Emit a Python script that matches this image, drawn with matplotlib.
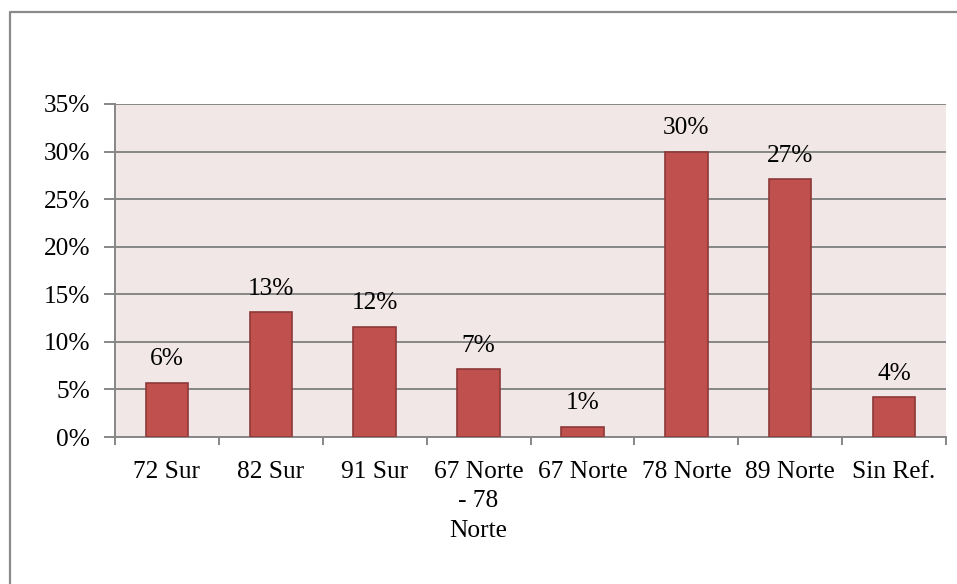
import numpy as np
import matplotlib.pyplot as plt
from matplotlib.lines import Line2D

categories = ["72 Sur", "82 Sur", "91 Sur", "67 Norte\n- 78\nNorte", "67 Norte",
              "78 Norte", "89 Norte", "Sin Ref."]
values = [5.7, 13.1, 11.6, 7.1, 1.1, 30.0, 27.1, 4.2]
yticks = [0, 5, 10, 15, 20, 25, 30, 35]

plt.rcParams['font.family'] = ['Liberation Serif', 'DejaVu Serif']
fs = 18.3

fig = plt.figure(figsize=(9.57, 5.84), dpi=100)
# chart frame: only top and left edges are visible in the crop
fx, fy = 9.5 / 957, 1 - 11.5 / 584
fig.lines.append(Line2D([fx, fx, 1], [0, fy, fy], transform=fig.transFigure,
                        color='#8a8a8a', linewidth=1.6))

ax = fig.add_axes([115 / 957, 147 / 584, 831 / 957, 333 / 584])
ax.set_facecolor('#F2E7E7')

x = np.arange(len(categories))
ax.bar(x, values, width=0.41, color='#C0504D', edgecolor='#8C3A38',
       linewidth=1.2, zorder=3)

for xi, v in zip(x, values):
    ax.annotate(f"{round(v)}%", (xi, v), xytext=(0, 9), textcoords='offset points',
                ha='center', va='bottom', fontsize=fs)

ax.set_xlim(-0.5, len(categories) - 0.5)
ax.set_ylim(0, 35)
ax.set_yticks(yticks)
ax.set_yticklabels([f"{t}%" for t in yticks], fontsize=fs)
ax.yaxis.grid(True, color='#878787', linewidth=1.4, zorder=0)
ax.set_axisbelow(True)

ax.set_xticks(np.arange(len(categories) + 1) - 0.5, minor=False)
ax.set_xticklabels([])
ax.set_xticks(x, minor=True)
ax.set_xticklabels(categories, minor=True, fontsize=fs, linespacing=1.45,
                   multialignment='center')
ax.tick_params(axis='x', which='minor', length=0, pad=17)
ax.tick_params(axis='x', which='major', length=6, color='#878787', width=1.4)
ax.tick_params(axis='y', length=8, color='#878787', width=1.4, pad=10)

for s in ['top', 'right']:
    ax.spines[s].set_visible(False)
for s in ['left', 'bottom']:
    ax.spines[s].set_color('#878787')
    ax.spines[s].set_linewidth(1.4)

fig.savefig('out.png', dpi=100)
